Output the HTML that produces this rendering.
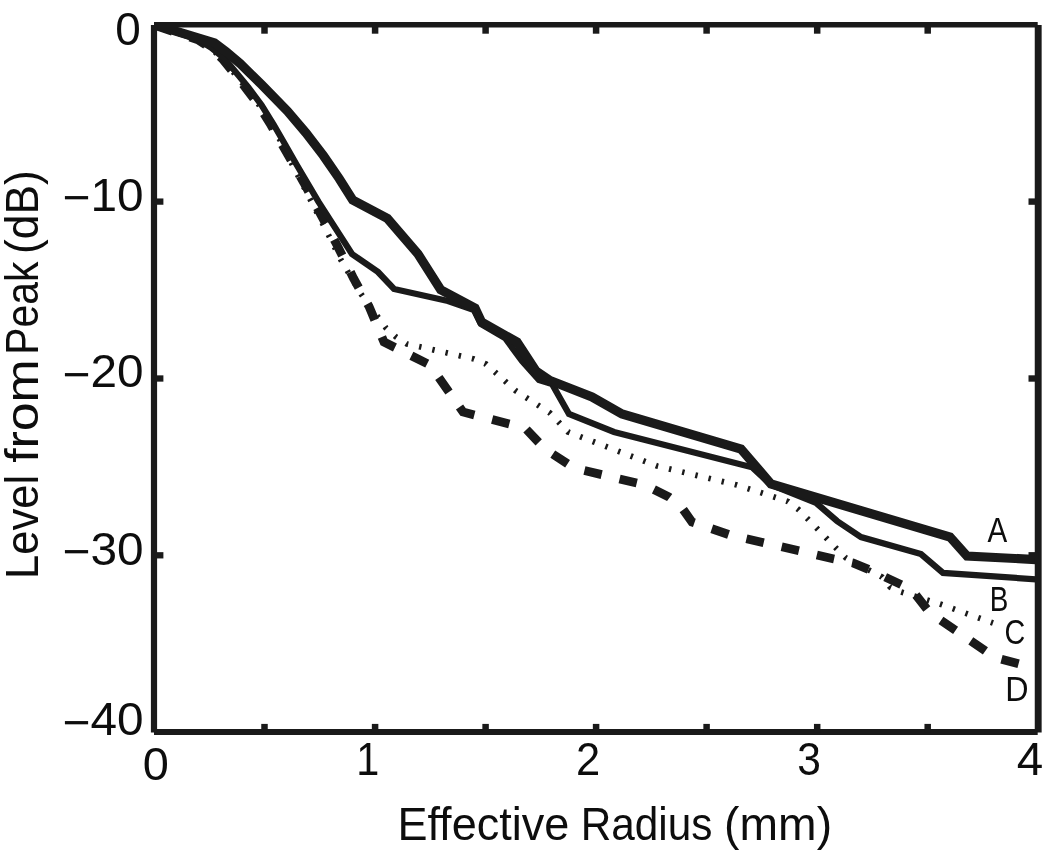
<!DOCTYPE html>
<html lang="en">
<head>
<meta charset="utf-8">
<title>Level from Peak vs Effective Radius</title>
<style>
html,body{margin:0;padding:0;background:#fff;}
body{width:1050px;height:856px;overflow:hidden;}
svg{display:block;filter:blur(0.4px);}
</style>
</head>
<body>
<svg width="1050" height="856" viewBox="0 0 1050 856">
<rect width="1050" height="856" fill="#fff"/>
<defs><clipPath id="plotclip"><rect x="154" y="22" width="884.2" height="713"/></clipPath></defs>
<g fill="none" stroke="#1a1a1a" stroke-linejoin="miter" stroke-linecap="butt" clip-path="url(#plotclip)">
<polyline points="154.0,25.0 198.0,39.7 210.0,47.5 221.5,58.0 236.5,76.0 245.5,87.0 259.0,105.0 271.4,125.0 281.2,142.0 291.0,162.0 310.0,199.0 329.0,236.0 341.0,260.0 361.0,294.0 386.0,328.0 396.0,337.0 407.0,344.0 421.0,347.0 474.0,359.0 486.0,364.0 496.0,373.0 516.0,391.0 550.0,413.0 568.0,432.0 657.0,466.0 737.0,485.0 788.0,501.5 799.0,510.0 836.0,548.0 846.0,558.0 882.0,577.0 890.0,587.0 901.0,592.0 940.0,604.0 993.0,623.0" stroke-width="5.8" stroke-dasharray="2.4 11.12" stroke-dashoffset="0.27"/>
<polyline points="154.0,25.0 198.0,39.8 210.5,48.0 222.5,59.0 236.3,76.0 245.0,87.0 258.5,105.0 270.9,125.0 280.7,142.0 293.8,165.0 304.0,183.0 321.4,215.6 338.0,247.0 353.6,278.4 369.0,306.4 384.0,342.0 430.0,365.0 463.0,412.0 525.0,428.0 545.0,449.0 574.0,468.0 645.0,485.0 669.0,497.0 680.0,505.0 692.0,522.0 730.0,535.0 800.0,551.0 834.0,559.0 853.0,563.0 870.0,570.0 902.0,585.0 912.0,590.0 930.0,613.0 985.0,650.5 994.5,657.3 1018.7,663.8" stroke-width="8.8" stroke-dasharray="17.7 18.41" stroke-dashoffset="-1.82"/>
<polyline points="154.0,25.0 198.0,39.5 211.0,47.5 224.0,58.0 239.0,76.0 248.0,87.0 261.5,105.0 273.9,125.0 283.7,142.0 296.8,165.0 318.4,201.6 352.0,254.0 378.0,272.0 394.0,289.0 448.0,301.0 474.0,310.0 481.0,324.0 505.0,338.0 522.0,361.0 539.0,380.0 552.0,384.0 569.0,414.0 614.0,432.0 752.0,467.3 771.0,484.8 816.0,502.8 837.0,521.0 861.0,537.0 921.0,554.0 943.0,573.0 1036.0,579.3" stroke-width="6.3" />
<polyline points="154.0,24.5 214.5,43.0 226.0,51.5 240.0,63.5 262.0,85.0 287.4,111.0 306.0,133.0 323.5,155.8 339.3,178.7 352.7,200.0 387.4,218.4 418.0,254.0 440.7,289.7 475.0,308.0 481.5,322.0 517.0,342.0 536.0,371.0 550.0,380.5 592.0,397.0 622.0,414.0 741.0,449.0 771.0,484.0 950.0,537.0 967.0,556.0 1036.0,559.6" stroke-width="9.2" />
</g>
<g fill="none" stroke="#1a1a1a" stroke-linecap="butt">
<line x1="154.0" y1="25" x2="154.0" y2="732.6" stroke-width="6.2"/>
<line x1="1038.2" y1="25" x2="1038.2" y2="732.6" stroke-width="6.9"/>
<line x1="154.0" y1="24.7" x2="1037.7" y2="24.7" stroke-width="5.6"/>
<line x1="154.0" y1="732.1" x2="1037.7" y2="732.1" stroke-width="6"/>
<line x1="264.5" y1="24.7" x2="264.5" y2="33.7" stroke-width="6.5"/>
<line x1="264.5" y1="732.1" x2="264.5" y2="723.9" stroke-width="6.5"/>
<line x1="375.1" y1="24.7" x2="375.1" y2="33.7" stroke-width="6.5"/>
<line x1="375.1" y1="732.1" x2="375.1" y2="723.9" stroke-width="6.5"/>
<line x1="485.6" y1="24.7" x2="485.6" y2="33.7" stroke-width="6.5"/>
<line x1="485.6" y1="732.1" x2="485.6" y2="723.9" stroke-width="6.5"/>
<line x1="596.1" y1="24.7" x2="596.1" y2="33.7" stroke-width="6.5"/>
<line x1="596.1" y1="732.1" x2="596.1" y2="723.9" stroke-width="6.5"/>
<line x1="706.6" y1="24.7" x2="706.6" y2="33.7" stroke-width="6.5"/>
<line x1="706.6" y1="732.1" x2="706.6" y2="723.9" stroke-width="6.5"/>
<line x1="817.2" y1="24.7" x2="817.2" y2="33.7" stroke-width="6.5"/>
<line x1="817.2" y1="732.1" x2="817.2" y2="723.9" stroke-width="6.5"/>
<line x1="927.7" y1="24.7" x2="927.7" y2="33.7" stroke-width="6.5"/>
<line x1="927.7" y1="732.1" x2="927.7" y2="723.9" stroke-width="6.5"/>
<line x1="154.0" y1="201.6" x2="163.4" y2="201.6" stroke-width="6.3"/>
<line x1="1038.2" y1="201.6" x2="1028.5" y2="201.6" stroke-width="6.4"/>
<line x1="154.0" y1="378.5" x2="163.4" y2="378.5" stroke-width="6.3"/>
<line x1="1038.2" y1="378.5" x2="1028.5" y2="378.5" stroke-width="6.4"/>
<line x1="154.0" y1="555.3" x2="163.4" y2="555.3" stroke-width="6.3"/>
<line x1="1038.2" y1="555.3" x2="1028.5" y2="555.3" stroke-width="6.4"/>
</g>
<g font-family="'Liberation Sans', sans-serif" fill="#0d0d0d">
<text transform="translate(115.26 45.30) scale(0.9977 1)" font-size="46">0</text>
<text transform="translate(62.71 210.60) scale(1.0375 1)" font-size="46"><tspan dy="2.7">−</tspan><tspan dy="-2.7">10</tspan></text>
<text transform="translate(62.71 387.10) scale(1.0375 1)" font-size="46"><tspan dy="2.7">−</tspan><tspan dy="-2.7">20</tspan></text>
<text transform="translate(62.71 564.60) scale(1.0375 1)" font-size="46"><tspan dy="2.7">−</tspan><tspan dy="-2.7">30</tspan></text>
<text transform="translate(62.71 735.10) scale(1.0375 1)" font-size="46"><tspan dy="2.7">−</tspan><tspan dy="-2.7">40</tspan></text>
<text transform="translate(142.72 780.30) scale(1.0206 1)" font-size="46">0</text>
<text transform="translate(356.29 774.60) scale(0.9000 1)" font-size="46">1</text>
<text transform="translate(576.12 774.60) scale(0.9460 1)" font-size="46">2</text>
<text transform="translate(797.20 774.70) scale(0.9251 1)" font-size="46">3</text>
<text transform="translate(1016.81 774.50) scale(1.0348 1)" font-size="46">4</text>
<text transform="translate(987.45 541.80) scale(0.8207 1)" font-size="36">A</text>
<text transform="translate(989.67 610.60) scale(0.7957 1)" font-size="35">B</text>
<text transform="translate(1004.56 643.60) scale(0.8209 1)" font-size="35">C</text>
<text transform="translate(1005.22 700.50) scale(0.9220 1)" font-size="35">D</text>
<text transform="translate(0 840)" font-size="47"><tspan x="397.40" textLength="171.89" lengthAdjust="spacingAndGlyphs">Effective</tspan> <tspan x="580.71" textLength="131.79" lengthAdjust="spacingAndGlyphs">Radius</tspan> <tspan x="724.12" textLength="107.95" lengthAdjust="spacingAndGlyphs">(mm)</tspan></text>
<text transform="translate(38 575.4) rotate(-90)" font-size="47"><tspan x="-3.49" textLength="104.14" lengthAdjust="spacingAndGlyphs">Level</tspan> <tspan x="112.62" textLength="103.54" lengthAdjust="spacingAndGlyphs">from</tspan> <tspan x="220.63" textLength="93.24" lengthAdjust="spacingAndGlyphs">Peak</tspan> <tspan x="321.44" textLength="83.81" lengthAdjust="spacingAndGlyphs">(dB)</tspan></text>
</g>
</svg>
</body>
</html>
